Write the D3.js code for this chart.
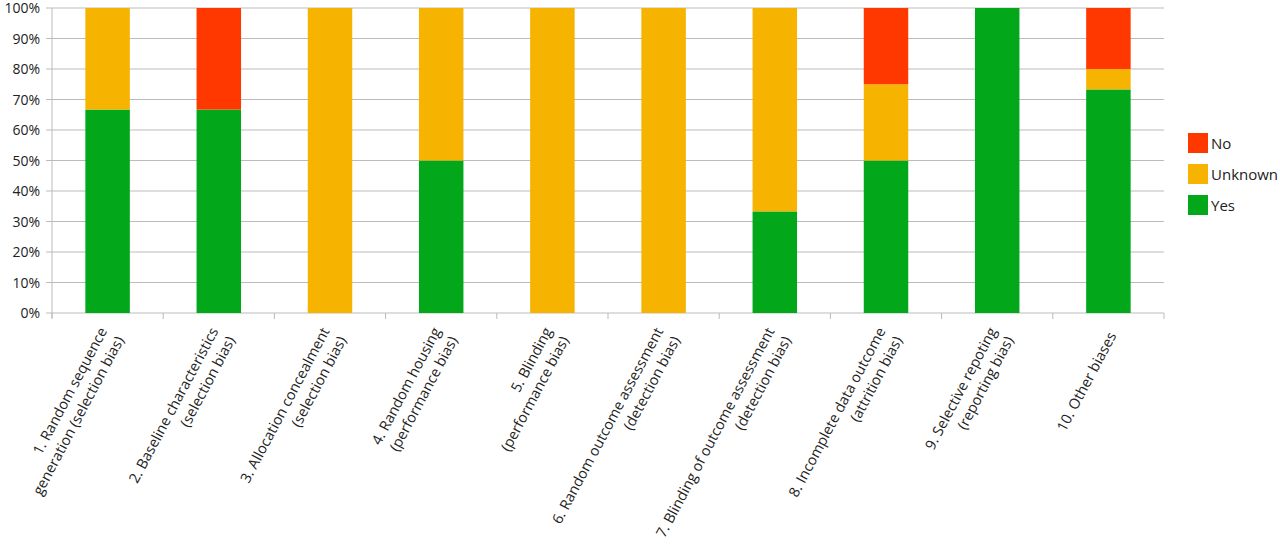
<!DOCTYPE html><html><head><script src="https://cdn.jsdelivr.net/npm/d3@7"></script>
<style>body{margin:0;background:#fff}text{font-family:"Open Sans",sans-serif;fill:#222}</style></head><body><svg id="c" width="1280" height="546"></svg><script>
const categories=[["1. Random sequence","generation (selection bias)"],["2. Baseline characteristics","(selection bias)"],["3. Allocation concealment","(selection bias)"],["4. Random housing","(performance bias)"],["5. Blinding","(performance bias)"],["6. Random outcome assessment","(detection bias)"],["7. Blinding of outcome assessment","(detection bias)"],["8. Incomplete data outcome","(attrition bias)"],["9. Selective repoting","(reporting bias)"],["10. Other biases",""]];
const yes=[66.7,66.7,0,50,0,0,33.3,50,100,73.3];
const unknown=[33.3,0,100,50,100,100,66.7,25,0,6.7];
const no=[0,33.3,0,0,0,0,0,25,0,20];
const seriesNames=["Yes","Unknown","No"];
const colors={Yes:"#03a81a",Unknown:"#f6b300",No:"#ff3800"};
const svg=d3.select("#c");
const L=52,R=1164,T=8,B=313;
const x=d3.scaleBand().domain(d3.range(10)).range([L,R]).paddingInner(0.6).paddingOuter(0.3);
const y=d3.scaleLinear().domain([0,100]).range([B,T]);
const ticks=d3.range(0,101,10);
svg.append("g").selectAll("line").data(ticks).join("line").attr("x1",L-6).attr("x2",R).attr("y1",d=>y(d)).attr("y2",d=>y(d)).attr("stroke","#bbb");
svg.append("g").selectAll("text").data(ticks).join("text").attr("x",L-12).attr("y",d=>y(d)+5).attr("text-anchor","end").attr("font-size",14).text(d=>d+"%");
svg.append("line").attr("x1",L).attr("x2",L).attr("y1",T).attr("y2",B+5).attr("stroke","#bbb");
const edges=d3.range(11).map(i=>L+(R-L)/10*i);
svg.append("g").selectAll("line").data(edges).join("line").attr("x1",d=>d).attr("x2",d=>d).attr("y1",B).attr("y2",B+6).attr("stroke","#bbb");
const data=d3.range(10).map(i=>({i,Yes:yes[i],Unknown:unknown[i],No:no[i]}));
const stack=d3.stack().keys(seriesNames)(data);
svg.append("g").selectAll("g").data(stack).join("g").attr("fill",s=>colors[s.key]).selectAll("rect").data(s=>s).join("rect")
 .attr("x",d=>x(d.data.i)).attr("width",x.bandwidth()).attr("y",d=>y(d[1])).attr("height",d=>y(d[0])-y(d[1]));
const lab=svg.append("g").selectAll("text").data(categories).join("text").attr("font-size",14.5).attr("text-anchor","end")
 .attr("transform",(d,i)=>`translate(${x(i)+x.bandwidth()/2+4},${B+20}) rotate(-62)`);
lab.each(function(d){const t=d3.select(this);const n=d[1]?2:1;d.forEach((s,k)=>{if(s)t.append("tspan").attr("x",0).attr("y",(k-(n-1)/2)*19+5).text(s);});});
const leg=svg.append("g").attr("transform","translate(1188,133)");
["No","Unknown","Yes"].forEach((k,j)=>{leg.append("rect").attr("x",0).attr("y",j*31).attr("width",20).attr("height",20).attr("fill",colors[k]);
 leg.append("text").attr("x",23).attr("y",j*31+16).attr("font-size",15).text(k);});
</script></body></html>
